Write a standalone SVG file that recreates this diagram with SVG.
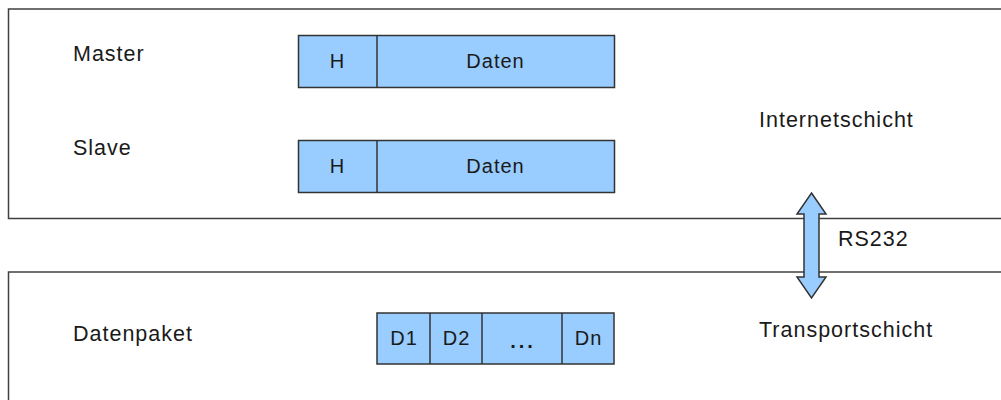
<svg xmlns="http://www.w3.org/2000/svg" width="1001" height="400" viewBox="0 0 1001 400">
  <style>
    .layer { fill: #ffffff; stroke: #404040; stroke-width: 1.5; }
    .cell { fill: #99ccff; stroke: #333333; stroke-width: 1.5; }
    .sep { stroke: #333333; stroke-width: 1.5; }
    .lbl { font-family: "Liberation Sans", Arial, sans-serif; font-size: 21.5px; letter-spacing: 1px; fill: #1a1a1a; }
    .in { font-family: "Liberation Sans", Arial, sans-serif; font-size: 20px; letter-spacing: 1px; fill: #1a1a1a; text-anchor: middle; }
  </style>

  <!-- Layer frames (open to the right / bottom edge) -->
  <g id="internetschicht">
    <path class="layer" d="M1010,9 H8.5 V218.5 H1010"/>
    <text class="lbl" x="759" y="127">Internetschicht</text>
  </g>
  <g id="transportschicht">
    <path class="layer" d="M1010,272 H8.5 V410"/>
    <text class="lbl" x="759" y="337">Transportschicht</text>
  </g>

  <!-- Master frame -->
  <g id="master">
    <text class="lbl" x="73" y="61">Master</text>
    <rect class="cell" x="298.5" y="35.5" width="316" height="52"/>
    <line class="sep" x1="377" y1="35.5" x2="377" y2="87.5"/>
    <text class="in" x="337.5" y="68">H</text>
    <text class="in" x="495.5" y="68">Daten</text>
  </g>

  <!-- Slave frame -->
  <g id="slave">
    <text class="lbl" x="73" y="155">Slave</text>
    <rect class="cell" x="298.5" y="140.5" width="316" height="52"/>
    <line class="sep" x1="377" y1="140.5" x2="377" y2="192.5"/>
    <text class="in" x="337.5" y="173">H</text>
    <text class="in" x="495.5" y="173">Daten</text>
  </g>

  <!-- Data packet -->
  <g id="datenpaket">
    <text class="lbl" x="73" y="341">Datenpaket</text>
    <rect class="cell" x="377" y="313" width="237" height="51"/>
    <line class="sep" x1="430" y1="313" x2="430" y2="364"/>
    <line class="sep" x1="482" y1="313" x2="482" y2="364"/>
    <line class="sep" x1="562" y1="313" x2="562" y2="364"/>
    <text class="in" x="404" y="345">D1</text>
    <text class="in" x="456.5" y="345">D2</text>
    <text class="in" x="523" y="348" style="letter-spacing:3px;font-weight:bold">...</text>
    <text class="in" x="588.5" y="345">Dn</text>
  </g>

  <!-- Serial link between layers -->
  <g id="connectors">
    <path class="cell" d="M811.5,193 L826,214 L819,214 L819,277 L826,277 L811.5,298 L797,277 L804,277 L804,214 L797,214 Z"/>
    <text class="lbl" x="838" y="246">RS232</text>
  </g>
</svg>
